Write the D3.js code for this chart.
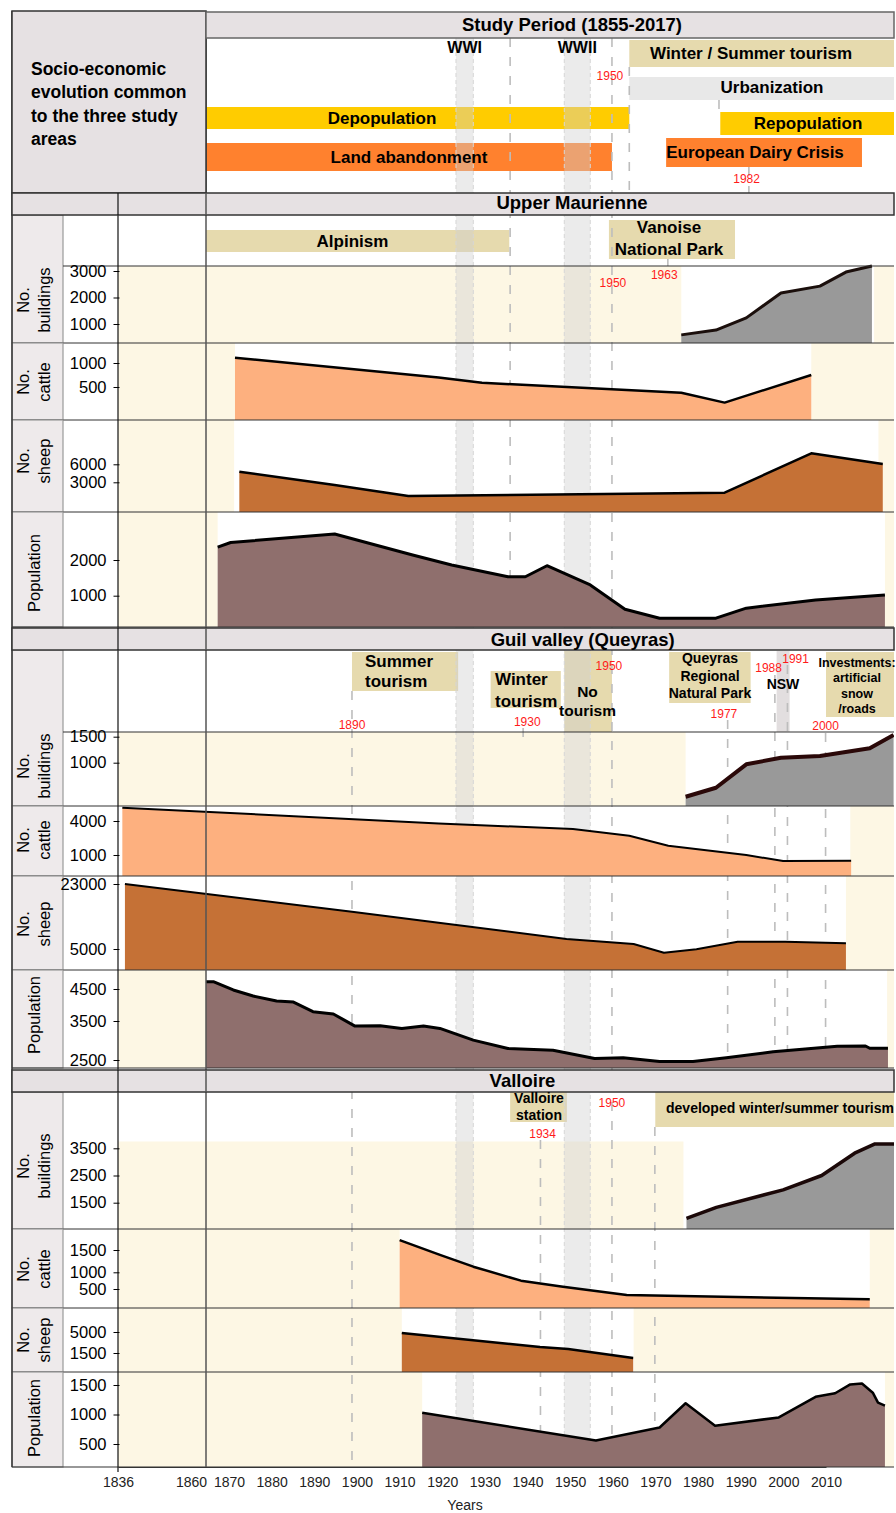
<!DOCTYPE html>
<html><head><meta charset="utf-8">
<script src="https://cdn.jsdelivr.net/npm/d3@7"></script>
<style>
body{margin:0;background:#fff}
svg text{font-family:"Liberation Sans",Arial,Helvetica,sans-serif}
</style>
</head><body>
<svg id="c" width="896" height="1513"></svg>
<script>
// ================= DATA =================
const axisTickYears = [1836,1860,1870,1880,1890,1900,1910,1920,1930,1940,1950,1960,1970,1980,1990,2000,2010];
const warLabels = ['WWI','WWII'];
const warStart = [1914,1939];
const warEnd = [1918,1945];

// common socio-economic evolution
const commonEvents = ['Winter / Summer tourism','Urbanization','Depopulation','Repopulation','Land abandonment','European Dairy Crisis'];
const commonStart = [1954,1954,1855,1975,1855,1962.5];
const commonEnd = [2017,2017,1954,2017,1950,2007.7];

// Upper Maurienne
const umEvents = [['Alpinism'],['Vanoise','National Park']];
const umEventStart = [1855,1949.3];
const umEventEnd = [1926.3,1978.4];
const umBuildTicks = [1000,2000,3000];
const umBuildYears = [1966,1974,1981,1989,1998,2004,2010];
const umBuildVals = [590,770,1230,2170,2430,2960,3190];
const umBuildGaps = [[1836,1966],[2010.5,2017]];
const umCattleTicks = [500,1000];
const umCattleYears = [1863,1910,1920,1927,1966,1976,1996];
const umCattleVals = [1110,700,590,555,380,175,750];
const umCattleGaps = [[1836,1863],[1996,2017]];
const umSheepTicks = [3000,6000];
const umSheepYears = [1864,1886,1903,1976,1996,2012.5];
const umSheepVals = [4770,2550,720,1270,7830,6050];
const umSheepGaps = [[1836,1862.8],[2011.5,2017]];
const umPopTicks = [1000,2000];
const umPopYears = [1859,1862,1886,1904,1913,1926,1930,1935,1945,1953,1961,1974,1981,1997,2013];
const umPopVals = [2360,2490,2730,2140,1860,1530,1530,1840,1300,620,370,370,650,880,1020];
const umPopGaps = [[1836,1859],[2013,2017]];

// Guil valley (Queyras)
const guilEvents = [['Summer','tourism'],['Winter','tourism'],['No','tourism'],['Queyras','Regional','Natural Park'],['NSW'],['Investments:','artificial','snow','/roads']];
const guilEventStart = [1890,1922,1939,1963.2,1988,1999.4];
const guilEventEnd = [1914.5,1938.2,1950,1982,1991,2017];
const guilBuildTicks = [1000,1500];
const guilBuildYears = [1967,1974,1981,1989,1998,2009.5,2015];
const guilBuildVals = [346,519,969,1096,1129,1276,1533];
const guilBuildGaps = [[1836,1967]];
const guilCattleTicks = [1000,4000];
const guilCattleYears = [1837,1910,1941,1954,1963,1981,1989.5,2005.2];
const guilCattleVals = [5170,3790,3290,2700,1820,1000,470,500];
const guilCattleGaps = [[2005,2017]];
const guilSheepTicks = [5000,23000];
const guilSheepYears = [1837.6,1856.5,1890,1910,1939.5,1955,1962,1969.5,1979,1990,2004];
const guilSheepVals = [23000,20230,15330,12280,7770,6380,3970,4910,7000,7000,6560];
const guilSheepGaps = [[2004,2017]];
const guilPopTicks = [2500,3500,4500];
const guilPopYears = [1856.3,1858,1862.6,1867.2,1872.6,1876.5,1881,1885.7,1890.7,1896.5,1901.5,1906.5,1910.3,1918,1926,1936.4,1946,1952.6,1961,1968.7,1976.4,1987.2,2002,2008.5,2009.5,2013.7];
const guilPopVals = [4730,4730,4470,4280,4125,4090,3790,3720,3370,3380,3310,3370,3310,3010,2795,2750,2540,2560,2460,2460,2560,2710,2855,2860,2800,2800];
const guilPopGaps = [[1836,1856.3],[2013.5,2017]];

// Valloire
const valEvents = [['Valloire','station'],['developed winter/summer tourism']];
const valEventStart = [1926.5,1960];
const valEventEnd = [1939.6,2017];
const valBuildTicks = [1500,2500,3500];
const valBuildYears = [1967.2,1974.1,1989.5,1998.4,2006,2010.7,2017];
const valBuildVals = [920,1330,1970,2500,3320,3660,3660];
const valBuildGaps = [[1836,1966.5]];
const valCattleTicks = [500,1000,1500];
const valCattleYears = [1901,1910.3,1918,1929,1938.7,1953.4,2009.5];
const valCattleVals = [1720,1390,1126,750,570,320,190];
const valCattleGaps = [[1836,1901],[2009.5,2017]];
const valSheepTicks = [1500,5000];
const valSheepYears = [1901.5,1933.4,1939.9,1954.9];
const valSheepVals = [4830,2500,2170,670];
const valSheepGaps = [[1836,1901.5],[1955,2017]];
const valPopTicks = [500,1000,1500];
const valPopYears = [1906.2,1946.3,1961,1967,1973.8,1988.5,1997,2001.5,2005,2007.7,2010.2,2011.4,2013];
const valPopVals = [1030,560,780,1190,810,950,1300,1360,1510,1525,1370,1200,1150];
const valPopGaps = [[1836,1906.2],[2013,2017]];

// year annotations (red)
const annotYears = [1950,1982,1950,1963,1890,1930,1950,1977,1988,1991,2000,1950,1934];

// ================= STYLE / LAYOUT =================
const W=896, H=1513, L=12, R=894, C0=63, C1=118, C2=206, BOT=1467;
const HEADER='#E6E1E3', CELL='#EEEAEB', CREAM='#FDF7E4', TAN='#E6DAAE', GOLD='#FFCC00',
      ORANGE='#FF812E', LGREY='#E8E8E8', BAND='#CFCFCF';
const C_BUILD='#999999', C_CATTLE='#FDB07F', C_SHEEP='#C57136', C_POP='#8F6F6D';

const x = d3.scaleLinear().domain([1836,2015]).range([C1,893.6]);
const xc = (y,lo) => Math.max(lo, Math.min(R, x(y)));

const svg = d3.select('#c');
svg.append('rect').attr('width',W).attr('height',H).attr('fill','#fff');

const gCream = svg.append('g');
const gEvents = svg.append('g');
const gBands = svg.append('g');
const gDash = svg.append('g');
const gData = svg.append('g');
const gFrame = svg.append('g');
const gText = svg.append('g');

const panels = [
 {top:266,bot:343,cellTop:215,creamTop:266,lab:['No.','buildings'],lcy:300,dom:[1000,3000],rng:[324,271],ticks:umBuildTicks,yrs:umBuildYears,vals:umBuildVals,gaps:umBuildGaps,fill:C_BUILD,sw:3,stroke:'#1b0f0c',topLine:true},
 {top:343,bot:420,cellTop:343,creamTop:343,lab:['No.','cattle'],lcy:382,dom:[500,1000],rng:[387,363],ticks:umCattleTicks,yrs:umCattleYears,vals:umCattleVals,gaps:umCattleGaps,fill:C_CATTLE,sw:2.5,stroke:'#000'},
 {top:420,bot:512,cellTop:420,creamTop:420,lab:['No.','sheep'],lcy:461,dom:[3000,6000],rng:[482.3,464.3],ticks:umSheepTicks,yrs:umSheepYears,vals:umSheepVals,gaps:umSheepGaps,fill:C_SHEEP,sw:2.5,stroke:'#000'},
 {top:512,bot:627,cellTop:512,creamTop:512,lab:['Population'],lcy:573,dom:[1000,2000],rng:[595.7,560],ticks:umPopTicks,yrs:umPopYears,vals:umPopVals,gaps:umPopGaps,fill:C_POP,sw:3,stroke:'#000'},

 {top:732,bot:806,cellTop:650,creamTop:732,lab:['No.','buildings'],lcy:766,dom:[1000,1500],rng:[762.7,736.7],ticks:guilBuildTicks,yrs:guilBuildYears,vals:guilBuildVals,gaps:guilBuildGaps,fill:C_BUILD,sw:4,stroke:'#2a0808',topLine:true},
 {top:806,bot:876,cellTop:806,creamTop:806,lab:['No.','cattle'],lcy:840,dom:[1000,4000],rng:[855,821],ticks:guilCattleTicks,yrs:guilCattleYears,vals:guilCattleVals,gaps:guilCattleGaps,fill:C_CATTLE,sw:2,stroke:'#000'},
 {top:876,bot:970,cellTop:876,creamTop:876,lab:['No.','sheep'],lcy:924,dom:[5000,23000],rng:[949,884],ticks:guilSheepTicks,yrs:guilSheepYears,vals:guilSheepVals,gaps:guilSheepGaps,fill:C_SHEEP,sw:2,stroke:'#000'},
 {top:970,bot:1068,cellTop:970,creamTop:970,lab:['Population'],lcy:1015,dom:[2500,3500,4500],rng:[1060,1021,989],ticks:guilPopTicks,yrs:guilPopYears,vals:guilPopVals,gaps:guilPopGaps,fill:C_POP,sw:3,stroke:'#000'},

 {top:1092,bot:1229,cellTop:1092,creamTop:1141.5,lab:['No.','buildings'],lcy:1166,dom:[1500,3500],rng:[1202.7,1148.3],ticks:valBuildTicks,yrs:valBuildYears,vals:valBuildVals,gaps:valBuildGaps,fill:C_BUILD,sw:3.5,stroke:'#1b0808'},
 {top:1229,bot:1308,cellTop:1229,creamTop:1229,lab:['No.','cattle'],lcy:1269,dom:[500,1000,1500],rng:[1289,1272.3,1250],ticks:valCattleTicks,yrs:valCattleYears,vals:valCattleVals,gaps:valCattleGaps,fill:C_CATTLE,sw:2.5,stroke:'#000'},
 {top:1308,bot:1372,cellTop:1308,creamTop:1308,lab:['No.','sheep'],lcy:1340,dom:[1500,5000],rng:[1353,1332],ticks:valSheepTicks,yrs:valSheepYears,vals:valSheepVals,gaps:valSheepGaps,fill:C_SHEEP,sw:2.5,stroke:'#000'},
 {top:1372,bot:1467,cellTop:1372,creamTop:1372,lab:['Population'],lcy:1418,dom:[500,1500],rng:[1444,1385],ticks:valPopTicks,yrs:valPopYears,vals:valPopVals,gaps:valPopGaps,fill:C_POP,sw:2.5,stroke:'#000'}
];

// ---- cream "no data" zones
panels.forEach(p=>{
  p.gaps.forEach(g=>{
    const x0=xc(g[0],C1), x1=xc(g[1],C1);
    gCream.append('rect').attr('x',x0).attr('y',p.creamTop).attr('width',Math.max(0,x1-x0)).attr('height',p.bot-p.creamTop).attr('fill',CREAM);
  });
});

// ---- event bars
function bar(g,y0,y1,h,fill,lo){
  const a=xc(y0,lo), b=xc(y1,lo);
  g.append('rect').attr('x',a).attr('y',h[0]).attr('width',b-a).attr('height',h[1]-h[0]).attr('fill',fill);
}
const commonLayout = [
 {h:[40,67],fill:TAN,tx:751,ty:[59.3]},
 {h:[77,100],fill:LGREY,tx:772,ty:[93.3]},
 {h:[107,129],fill:GOLD,tx:382,ty:[124.3]},
 {h:[112,135],fill:GOLD,tx:808,ty:[128.7]},
 {h:[143,171],fill:ORANGE,tx:409,ty:[163.3]},
 {h:[138,167],fill:ORANGE,tx:755,ty:[158.3]}
];
commonEvents.forEach((e,i)=>{ bar(gEvents,commonStart[i],commonEnd[i],commonLayout[i].h,commonLayout[i].fill,C2); });

const umLayout = [
 {h:[230,252],fill:TAN,tx:352.5,ty:[246.7],fs:17},
 {h:[220,259],fill:TAN,tx:669,ty:[232.7,255],fs:17}
];
const guilLayout = [
 {h:[652,691],fill:TAN,tx:365,anchor:'start',ty:[666.7,687.3],fs:17},
 {h:[671,708],fill:TAN,tx:495,anchor:'start',ty:[685,706.7],fs:17},
 {h:[651,732],fill:TAN,tx:587.5,ty:[696.7,715.7],fs:15.5},
 {h:[652,703],fill:TAN,tx:710,ty:[663.3,681,698.3],fs:14},
 {h:[651,732],fill:'#E2DEDF',tx:783,ty:[689],fs:14},
 {h:[652,717],fill:TAN,tx:857,ty:[666.7,682.3,698,712.7],fs:12.5}
];
const valLayout = [
 {h:[1092,1122],fill:TAN,tx:539,ty:[1102.7,1120],fs:14},
 {h:[1092,1127],fill:TAN,tx:780,ty:[1112.7],fs:14}
];
umEvents.forEach((e,i)=>bar(gEvents,umEventStart[i],umEventEnd[i],umLayout[i].h,umLayout[i].fill,C2));
guilEvents.forEach((e,i)=>bar(gEvents,guilEventStart[i],guilEventEnd[i],guilLayout[i].h,guilLayout[i].fill,C1));
valEvents.forEach((e,i)=>bar(gEvents,valEventStart[i],valEventEnd[i],valLayout[i].h,valLayout[i].fill,C1));

// ---- war bands
warLabels.forEach((w,i)=>{
  const a=x(warStart[i]), b=x(warEnd[i]);
  gBands.append('rect').attr('x',a).attr('y',38).attr('width',b-a).attr('height',BOT-38).attr('fill',BAND).attr('opacity',0.42);
  [a,b].forEach(v=>gBands.append('line').attr('x1',v).attr('x2',v).attr('y1',38).attr('y2',BOT)
     .attr('stroke','#d6d6d6').attr('stroke-width',1).attr('stroke-dasharray','4,3'));
  gText.append('text').attr('x',(a+b)/2).attr('y',53).attr('text-anchor','middle')
     .attr('font-size',16).attr('font-weight','bold').text(w);
});

// ---- dashed reference lines
const dashLines = [
 [1926.5,38,627],[1950,38,BOT],[1954,67,193],[1974.7,100,112],[1981.6,167,193],[1962.9,259,266],
 [1890,691,BOT],[1929.5,728,740],[1976.7,720,1068],[1987.6,675,1068],[1990.5,665,1068],[1999.3,733,1068],
 [1933.5,1140,BOT],[1959.9,1127,BOT]
];
dashLines.forEach(d=>{
  gDash.append('line').attr('x1',x(d[0])).attr('x2',x(d[0])).attr('y1',d[1]).attr('y2',d[2])
    .attr('stroke','#BDBDBD').attr('stroke-width',1.6).attr('stroke-dasharray','9,10');
});

// ---- data areas
svg.append('clipPath').attr('id','dclip').append('rect').attr('x',C1).attr('y',0).attr('width',R-C1).attr('height',H);
gData.attr('clip-path','url(#dclip)');
panels.forEach(p=>{
  const y = d3.scaleLinear().domain(p.dom).range(p.rng);
  const pts = p.yrs.map((yr,i)=>[yr,p.vals[i]]);
  const area = d3.area().x(d=>x(d[0])).y0(p.bot).y1(d=>y(d[1]));
  const line = d3.line().x(d=>x(d[0])).y(d=>y(d[1]));
  gData.append('path').datum(pts).attr('d',area).attr('fill',p.fill);
  gData.append('path').datum(pts).attr('d',line).attr('fill','none').attr('stroke',p.stroke)
     .attr('stroke-width',p.sw).attr('stroke-linejoin','round');
  const ax = d3.axisLeft(y).tickValues(p.ticks).tickSize(5).tickPadding(7).tickFormat(d3.format('d'));
  const g = gText.append('g').attr('transform',`translate(${C1+0.5},0)`).call(ax);
  g.select('.domain').remove();
  g.selectAll('.tick line').attr('stroke','#000').attr('x2',-5).attr('x1',1);
  g.selectAll('.tick text').attr('font-size',16.5).attr('fill','#000').attr('font-family','"Liberation Sans",Arial,sans-serif');
});

// ---- frame
panels.forEach(p=>{
  gFrame.append('rect').attr('x',L).attr('y',p.cellTop).attr('width',C0-L).attr('height',p.bot-p.cellTop)
    .attr('fill',CELL).attr('stroke','#9a9a9a').attr('stroke-width',1.2);
  if(p.lab.length===2){
    [[p.lab[0],29],[p.lab[1],50]].forEach(([t,xx])=>{
      gText.append('text').attr('transform',`translate(${xx},${p.lcy}) rotate(-90)`).attr('text-anchor','middle')
        .attr('font-size',16.5).text(t);
    });
  } else {
    gText.append('text').attr('transform',`translate(40,${p.lcy}) rotate(-90)`).attr('text-anchor','middle')
      .attr('font-size',16.5).text(p.lab[0]);
  }
  if(p.topLine) gFrame.append('line').attr('x1',C0).attr('x2',R).attr('y1',p.top).attr('y2',p.top).attr('stroke','#333').attr('stroke-width',1.2);
  gFrame.append('line').attr('x1',L).attr('x2',R).attr('y1',p.bot).attr('y2',p.bot).attr('stroke','#333').attr('stroke-width',1.2);
});

gFrame.append('line').attr('x1',C1).attr('x2',C1).attr('y1',193).attr('y2',BOT+5).attr('stroke','#111').attr('stroke-width',1.2);
gFrame.append('line').attr('x1',C2).attr('x2',C2).attr('y1',11).attr('y2',BOT).attr('stroke','#555').attr('stroke-width',1.5);
gFrame.append('line').attr('x1',L).attr('x2',L).attr('y1',11).attr('y2',BOT).attr('stroke','#333').attr('stroke-width',1.5);

gFrame.append('rect').attr('x',L).attr('y',11).attr('width',C2-L).attr('height',193-11).attr('fill',HEADER).attr('stroke','#333').attr('stroke-width',1.5);
gFrame.append('rect').attr('x',C2).attr('y',12).attr('width',R-C2).attr('height',26).attr('fill',HEADER).attr('stroke','#666').attr('stroke-width',1.5);
gText.append('text').attr('x',572).attr('y',30.7).attr('text-anchor','middle').attr('font-size',18.5).attr('font-weight','bold').text('Study Period (1855-2017)');
['Socio-economic','evolution common','to the three study','areas'].forEach((t,i)=>{
  gText.append('text').attr('x',31).attr('y',75+i*23.4).attr('font-size',17.5).attr('font-weight','bold').text(t);
});

const regions = [
 {name:'Upper Maurienne',y:193,tx:572,ty:209.3},
 {name:'Guil valley (Queyras)',y:628,tx:582.7,ty:645.7},
 {name:'Valloire',y:1070,tx:522.5,ty:1086.7}
];
regions.forEach(r=>{
  gFrame.append('rect').attr('x',L).attr('y',r.y).attr('width',R-L).attr('height',22).attr('fill',HEADER).attr('stroke','#333').attr('stroke-width',1.5);
  gText.append('text').attr('x',r.tx).attr('y',r.ty).attr('text-anchor','middle').attr('font-size',18.5).attr('font-weight','bold').text(r.name);
  gFrame.append('line').attr('x1',C1).attr('x2',C1).attr('y1',r.y).attr('y2',r.y+22).attr('stroke','#111').attr('stroke-width',1.2);
  gFrame.append('line').attr('x1',C2).attr('x2',C2).attr('y1',r.y).attr('y2',r.y+22).attr('stroke','#555').attr('stroke-width',1.5);
});

function evText(lines,lay){
  lines.forEach((t,j)=>{
    gText.append('text').attr('x',lay.tx).attr('y',lay.ty[j]).attr('text-anchor',lay.anchor||'middle')
      .attr('font-size',lay.fs||17).attr('font-weight','bold').text(t);
  });
}
commonEvents.forEach((e,i)=>evText([e],commonLayout[i]));
umEvents.forEach((e,i)=>evText(e,umLayout[i]));
guilEvents.forEach((e,i)=>evText(e,guilLayout[i]));
valEvents.forEach((e,i)=>evText(e,valLayout[i]));

const annotLayout = [[-2,80],[-4,183.3],[1,287.3],[-4,279.3],[0,729],[2,726],[-3,670],[-5,717.7],[-8,671.7],[6,662.7],[-3,730.3],[0,1106.7],[0,1137.7]];
annotYears.forEach((a,i)=>{
  gText.append('text').attr('x',x(a)+annotLayout[i][0]).attr('y',annotLayout[i][1]).attr('text-anchor','middle')
    .attr('font-size',12).attr('fill','#FF1A1A').text(a);
});

// x axis
const axisScale = d3.scaleLinear().domain([1836,1860,1870,2010]).range([C1,191,229,826]);
const xa = svg.append('g').attr('transform',`translate(0,${BOT})`)
  .call(d3.axisBottom(axisScale).tickValues(axisTickYears).tickFormat(d3.format('d')).tickSize(0).tickPadding(10));
xa.select('.domain').attr('stroke','#333');
xa.selectAll('.tick text').attr('font-size',14).attr('fill','#222').attr('font-family','"Liberation Sans",Arial,sans-serif');
svg.append('text').attr('x',465).attr('y',1510).attr('text-anchor','middle').attr('font-size',14).attr('fill','#222').text('Years');
</script>
</body></html>
